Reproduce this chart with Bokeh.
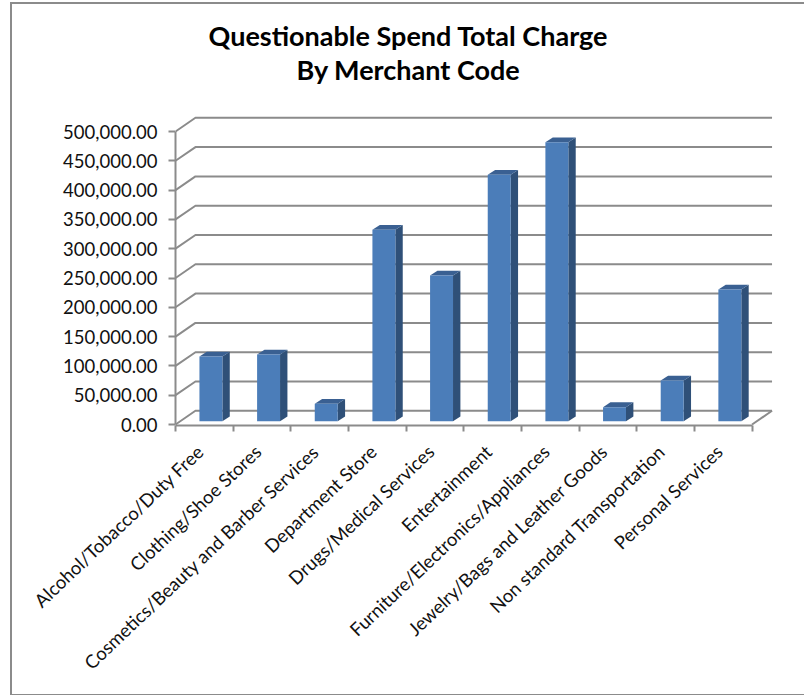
from bokeh.plotting import figure
from bokeh.embed import file_html
from bokeh.resources import INLINE
from bokeh.models import (LinearAxis, FixedTicker, NumeralTickFormatter, Range1d,
                          Label, InlineStyleSheet)

categories = ["Alcohol/Tobacco/Duty Free", "Clothing/Shoe Stores",
              "Cosmetics/Beauty and Barber Services", "Department Store",
              "Drugs/Medical Services", "Entertainment",
              "Furniture/Electronics/Appliances", "Jewelry/Bags and Leather Goods",
              "Non standard Transportation", "Personal Services"]
values = [110400, 113800, 29700, 326600, 248600, 420500, 476100, 24000, 69500, 224700]
y_ticks = [0, 50000, 100000, 150000, 200000, 250000, 300000, 350000, 400000, 450000, 500000]
title_lines = ["Questionable Spend Total Charge", "By Merchant Code"]

# geometry (pixels of the picture)
X0, UX = 175.5, 57.8     # x of category 0, px per category
Y0, UY = 424.0, 29.3 / 50000
FR_L, FR_R, FR_T, FR_B = 175.5, 790, 6, 425
W, H = 788, 694

DX = 20 / UX
DY = 13.7 / UY
BAR_L, BAR_W = 24 / UX, 23 / UX
BAR_B = 3.3 / UY
BDX, BDY = 7.4 / UX, 4.8 / UY

GRID = "#8b8b8b"
FRONT, SIDE, TOP = "#4b7db9", "#2f5078", "#3a6092"

border = InlineStyleSheet(css=":host::after{content:'';position:absolute;left:10px;top:2px;"
                              "width:800px;height:690px;border:2px solid #8b8b8b;"
                              "pointer-events:none;}")

p = figure(width=W, height=H, output_backend="svg", toolbar_location=None,
           x_axis_type=None, y_axis_type=None,
           x_range=Range1d((FR_L - X0) / UX, (FR_R - X0) / UX),
           y_range=Range1d((Y0 - FR_B) / UY, (Y0 - FR_T) / UY),
           min_border_left=int(FR_L), min_border_right=int(W - FR_R),
           min_border_top=FR_T, min_border_bottom=H - FR_B,
           background_fill_color="white",
           border_fill_color="white", outline_line_color=None,
           stylesheets=[border])
p.grid.visible = False

# axes
yax = LinearAxis(ticker=FixedTicker(ticks=y_ticks),
                 formatter=NumeralTickFormatter(format="0,0.00"),
                 bounds=(0, 500000), axis_line_color=GRID, axis_line_width=2,
                 major_tick_line_color=GRID, major_tick_line_width=2,
                 major_tick_in=0, major_tick_out=7, minor_tick_line_color=None,
                 major_label_standoff=11, major_label_text_font="Lato",
                 major_label_text_font_size="18.5px", major_label_text_color="#111111")
p.add_layout(yax, "left")

centers = [i + 0.43 for i in range(len(categories))]
edges = list(range(len(categories) + 1))
xax = LinearAxis(ticker=FixedTicker(ticks=centers, minor_ticks=edges),
                 major_label_overrides={c: n for c, n in zip(centers, categories)},
                 bounds=(0, len(categories)), axis_line_color=GRID, axis_line_width=2,
                 major_tick_line_color=None, major_tick_in=0, major_tick_out=0,
                 minor_tick_line_color=GRID, minor_tick_line_width=2,
                 minor_tick_in=0, minor_tick_out=6,
                 major_label_orientation=0.76, major_label_standoff=17,
                 major_label_text_font="Lato", major_label_text_font_size="18.5px",
                 major_label_text_color="#111111")
p.add_layout(xax, "below")

# wall and floor lines
n = len(categories)
xs, ys = [], []
for t in y_ticks:
    xs.append([0, DX, n + DX])
    ys.append([t, t + DY, t + DY])
xs.append([n, n + DX]); ys.append([0, DY])
p.multi_line(xs, ys, line_color=GRID, line_width=2)

# bars
front_x, front_y, side_x, side_y, top_x, top_y = [], [], [], [], [], []
for i, v in enumerate(values):
    l, r = i + BAR_L, i + BAR_L + BAR_W
    b, t = BAR_B, BAR_B + v
    front_x.append([l, r, r, l]); front_y.append([b, b, t, t])
    side_x.append([r, r + BDX, r + BDX, r]); side_y.append([b, b + BDY, t + BDY, t])
    top_x.append([l, r, r + BDX, l + BDX]); top_y.append([t, t, t + BDY, t + BDY])
p.patches(side_x, side_y, fill_color=SIDE, line_color=None)
p.patches(top_x, top_y, fill_color=TOP, line_color=None)
p.patches(front_x, front_y, fill_color=FRONT, line_color=None)

# title
for line, yy in zip(title_lines, [35, 69]):
    p.add_layout(Label(x=(409 - X0) / UX, y=(Y0 - yy) / UY,
                       text=line, text_align="center", text_baseline="middle",
                       text_font="Lato", text_font_style="bold",
                       text_font_size="27px", text_color="black"))

open("out.html", "w").write(file_html(p, INLINE))
